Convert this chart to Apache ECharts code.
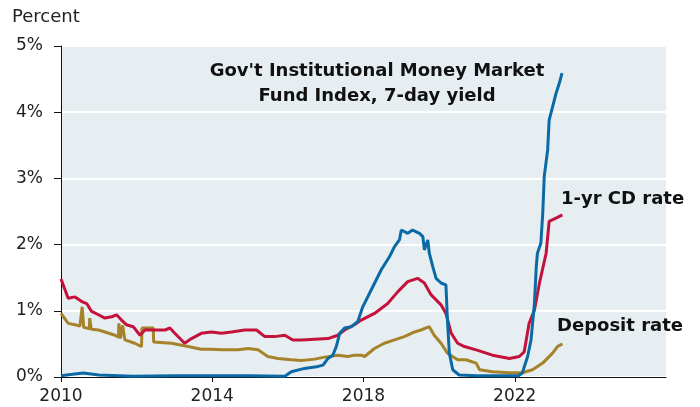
<!DOCTYPE html>
<html>
<head>
<meta charset="utf-8">
<script src="https://cdn.jsdelivr.net/npm/echarts@6/dist/echarts.min.js"></script>
<style>
  html, body { margin: 0; padding: 0; background: #fff; }
  #container { width: 700px; height: 407px; }
</style>
</head>
<body>
<div id="container"></div>
<script>
// years as decimals, values in percent
var cdYears = [2010.0, 2010.19, 2010.37, 2010.55, 2010.68, 2010.81, 2010.99, 2011.16, 2011.34, 2011.47, 2011.60, 2011.73, 2011.91, 2012.09, 2012.22, 2012.48, 2012.75, 2012.88, 2013.01, 2013.27, 2013.45, 2013.71, 2013.98, 2014.24, 2014.51, 2014.86, 2015.17, 2015.39, 2015.65, 2015.92, 2016.13, 2016.36, 2016.71, 2017.06, 2017.32, 2017.50, 2017.76, 2017.94, 2018.29, 2018.64, 2018.91, 2019.17, 2019.43, 2019.61, 2019.79, 2020.05, 2020.18, 2020.32, 2020.49, 2020.67, 2020.98, 2021.41, 2021.86, 2022.12, 2022.25, 2022.38, 2022.52, 2022.65, 2022.83, 2022.91, 2023.09, 2023.26];
var cdRate = [1.48, 1.19, 1.21, 1.14, 1.11, 0.99, 0.94, 0.89, 0.91, 0.94, 0.86, 0.79, 0.76, 0.63, 0.71, 0.71, 0.71, 0.74, 0.66, 0.51, 0.58, 0.66, 0.68, 0.66, 0.68, 0.71, 0.71, 0.61, 0.61, 0.63, 0.56, 0.56, 0.57, 0.58, 0.63, 0.71, 0.79, 0.86, 0.96, 1.11, 1.29, 1.44, 1.49, 1.42, 1.24, 1.09, 0.96, 0.66, 0.51, 0.46, 0.41, 0.33, 0.28, 0.31, 0.38, 0.81, 1.01, 1.41, 1.87, 2.35, 2.40, 2.45];

var mmfYears = [2010.0, 2010.3, 2010.59, 2011.0, 2011.9, 2013.0, 2014.0, 2015.0, 2015.92, 2016.09, 2016.44, 2016.8, 2016.93, 2017.06, 2017.19, 2017.28, 2017.37, 2017.5, 2017.68, 2017.85, 2017.98, 2018.2, 2018.47, 2018.69, 2018.82, 2018.95, 2019.0, 2019.17, 2019.3, 2019.48, 2019.57, 2019.61, 2019.7, 2019.74, 2019.83, 2019.92, 2020.05, 2020.18, 2020.22, 2020.27, 2020.36, 2020.53, 2021.0, 2021.5, 2022.1, 2022.2, 2022.34, 2022.43, 2022.52, 2022.57, 2022.6, 2022.69, 2022.74, 2022.78, 2022.87, 2022.91, 2023.0, 2023.09, 2023.18, 2023.25];
var mmfYield = [0.02, 0.04, 0.06, 0.03, 0.01, 0.02, 0.02, 0.02, 0.01, 0.08, 0.13, 0.16, 0.18, 0.28, 0.33, 0.46, 0.66, 0.74, 0.76, 0.84, 1.06, 1.31, 1.62, 1.82, 1.97, 2.07, 2.22, 2.17, 2.22, 2.17, 2.12, 1.92, 2.07, 1.87, 1.67, 1.49, 1.42, 1.39, 0.86, 0.36, 0.11, 0.03, 0.02, 0.02, 0.02, 0.06, 0.31, 0.56, 1.11, 1.67, 1.87, 2.02, 2.47, 3.03, 3.43, 3.88, 4.08, 4.28, 4.44, 4.59];

var depYears = [2010.0, 2010.19, 2010.37, 2010.5, 2010.55, 2010.56, 2010.6, 2010.68, 2010.75, 2010.76, 2010.8, 2010.99, 2011.16, 2011.43, 2011.52, 2011.53, 2011.57, 2011.62, 2011.63, 2011.69, 2011.95, 2012.13, 2012.14, 2012.44, 2012.45, 2012.92, 2013.36, 2013.71, 2013.98, 2014.24, 2014.68, 2014.95, 2015.21, 2015.47, 2015.74, 2016.09, 2016.36, 2016.71, 2016.97, 2017.32, 2017.59, 2017.76, 2017.94, 2018.03, 2018.29, 2018.55, 2018.82, 2019.08, 2019.35, 2019.52, 2019.74, 2019.87, 2020.05, 2020.22, 2020.49, 2020.71, 2020.98, 2021.07, 2021.41, 2021.86, 2022.2, 2022.47, 2022.74, 2023.0, 2023.13, 2023.26];
var depRate = [0.96, 0.81, 0.79, 0.77, 0.76, 1.06, 0.75, 0.74, 0.73, 0.89, 0.72, 0.71, 0.68, 0.63, 0.60, 0.81, 0.58, 0.57, 0.78, 0.56, 0.51, 0.46, 0.74, 0.74, 0.53, 0.51, 0.46, 0.42, 0.42, 0.41, 0.41, 0.43, 0.41, 0.31, 0.28, 0.26, 0.25, 0.27, 0.30, 0.33, 0.31, 0.33, 0.33, 0.31, 0.43, 0.51, 0.56, 0.61, 0.68, 0.71, 0.76, 0.63, 0.51, 0.36, 0.26, 0.26, 0.21, 0.11, 0.08, 0.065, 0.065, 0.11, 0.21, 0.36, 0.46, 0.50];

var yTicks = [0, 1, 2, 3, 4, 5];
var xStart = 2010;
var xTickYears = [2010, 2014, 2018, 2022];

function toPairs(years, vals) {
    var res = [];
    for (var i = 0; i < years.length; i++) {
        res.push([years[i] - xStart, vals[i]]);
    }
    return res;
}
var xTicks = xTickYears.map(function (y) { return y - xStart; });

var myChart = echarts.init(document.getElementById('container'));
var font = '"DejaVu Sans", sans-serif';

var option = {
    animation: false,
    textStyle: { fontFamily: font },
    grid: { left: 61, right: 34, top: 46, bottom: 30, show: true, backgroundColor: '#e6eef2', borderWidth: 0 },
    graphic: [
        { type: 'text', x: 12, y: 17, style: { text: 'Percent', font: '18px ' + font, fill: '#222', verticalAlign: 'middle' } },
        { type: 'text', x: 377, y: 71, style: { text: "Gov't Institutional Money Market", font: 'bold 18px ' + font, fill: '#111', align: 'center', verticalAlign: 'middle' } },
        { type: 'text', x: 377, y: 96, style: { text: 'Fund Index, 7-day yield', font: 'bold 18px ' + font, fill: '#111', align: 'center', verticalAlign: 'middle' } },
        { type: 'text', x: 561, y: 199, style: { text: '1-yr CD rate', font: 'bold 18px ' + font, fill: '#111', verticalAlign: 'middle' } },
        { type: 'text', x: 557, y: 326, style: { text: 'Deposit rate', font: 'bold 18px ' + font, fill: '#111', verticalAlign: 'middle' } }
    ],
    xAxis: {
        type: 'value',
        min: 0,
        max: 16,
        interval: 4,
        axisLine: { lineStyle: { color: '#111', width: 1 } },
        axisTick: { show: true, length: 5, lineStyle: { color: '#111' }, customValues: xTicks },
        splitLine: { show: false },
        axisLabel: { color: '#222', fontSize: 17, margin: 11, customValues: xTicks, formatter: function (v) { return v + xStart; } }
    },
    yAxis: {
        type: 'value',
        min: yTicks[0],
        max: yTicks[yTicks.length - 1],
        interval: 1,
        axisLine: { show: true, lineStyle: { color: '#111', width: 1 } },
        axisTick: { show: true, length: 7, lineStyle: { color: '#111' } },
        splitLine: { show: true, lineStyle: { color: '#ffffff', width: 2 } },
        axisLabel: { color: '#222', fontSize: 17, margin: 18, formatter: '{value}%' }
    },
    series: [
        {
            name: 'Deposit rate', type: 'line', showSymbol: false,
            data: toPairs(depYears, depRate),
            lineStyle: { color: '#a6822a', width: 3 }
        },
        {
            name: '1-yr CD rate', type: 'line', showSymbol: false,
            data: toPairs(cdYears, cdRate),
            lineStyle: { color: '#c4123c', width: 3 }
        },
        {
            name: 'MMF', type: 'line', showSymbol: false,
            data: toPairs(mmfYears, mmfYield),
            lineStyle: { color: '#0a6aa6', width: 3 }
        }
    ]
};
myChart.setOption(option);
</script>
</body>
</html>
